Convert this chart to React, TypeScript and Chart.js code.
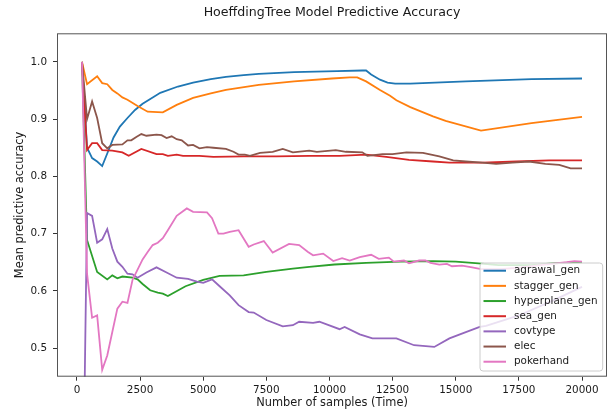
import { useEffect, useRef } from "react";
import { Chart, registerables } from "chart.js";

Chart.register(...registerables);

const TITLE = "HoeffdingTree Model Predictive Accuracy";
const X_LABEL = "Number of samples (Time)";
const Y_LABEL = "Mean predictive accuracy";

const X_TICKS = [0, 2500, 5000, 7500, 10000, 12500, 15000, 17500, 20000];
const Y_TICKS = [0.5, 0.6, 0.7, 0.8, 0.9, 1.0];

const SERIES_NAMES = [
  "agrawal_gen",
  "stagger_gen",
  "hyperplane_gen",
  "sea_gen",
  "covtype",
  "elec",
  "pokerhand",
];
const SERIES_COLORS = [
  "#1f77b4",
  "#ff7f0e",
  "#2ca02c",
  "#d62728",
  "#9467bd",
  "#8c564b",
  "#e377c2",
];

// [samples seen, mean accuracy]
const agrawalGen: [number, number][] = [
  [200, 1.0], [400, 0.85], [600, 0.832], [800, 0.826], [1000, 0.818], [1200, 0.84],
  [1450, 0.868], [1700, 0.887], [2000, 0.902], [2300, 0.916], [2600, 0.927], [3000, 0.938],
  [3300, 0.946], [4000, 0.957], [4600, 0.964], [5300, 0.97], [5900, 0.974], [6600, 0.977],
  [7200, 0.979], [8600, 0.982], [10300, 0.984], [11300, 0.985], [11450, 0.985], [11650, 0.978],
  [12000, 0.969], [12300, 0.964], [12600, 0.962], [13200, 0.962], [15400, 0.966], [18000, 0.97],
  [20000, 0.971],
];

const staggerGen: [number, number][] = [
  [200, 1.0], [400, 0.961], [800, 0.975], [1000, 0.963], [1200, 0.961], [1400, 0.951],
  [1600, 0.945], [1800, 0.938], [2000, 0.934], [2400, 0.923], [2800, 0.913], [3400, 0.912],
  [3950, 0.925], [4600, 0.937], [5300, 0.945], [5900, 0.951], [7200, 0.96], [8600, 0.966],
  [10100, 0.971], [10800, 0.973], [11100, 0.973], [11450, 0.966], [12000, 0.951], [12400, 0.941],
  [12650, 0.933], [13200, 0.921], [14100, 0.905], [14600, 0.897], [16000, 0.88], [18000, 0.893],
  [20000, 0.904],
];

const hyperplaneGen: [number, number][] = [
  [200, 1.0], [400, 0.689], [800, 0.633], [1200, 0.62], [1400, 0.627], [1600, 0.622],
  [1800, 0.625], [2200, 0.623], [2400, 0.62], [2600, 0.612], [2900, 0.601], [3200, 0.597],
  [3400, 0.595], [3600, 0.591], [4300, 0.608], [5000, 0.619], [5650, 0.626], [6600, 0.627],
  [7500, 0.633], [8550, 0.639], [9200, 0.642], [10200, 0.646], [11450, 0.649], [12800, 0.651],
  [14100, 0.652], [15000, 0.651], [15900, 0.648], [16700, 0.645], [18000, 0.645], [18800, 0.648],
  [20000, 0.65],
];

const seaGen: [number, number][] = [
  [200, 1.0], [400, 0.846], [600, 0.858], [800, 0.858], [1000, 0.846], [1400, 0.845],
  [1800, 0.842], [2050, 0.836], [2550, 0.848], [3150, 0.839], [3400, 0.839], [3600, 0.836],
  [3950, 0.838], [4200, 0.836], [4850, 0.836], [5400, 0.834], [6600, 0.835], [7900, 0.835],
  [9200, 0.836], [10400, 0.836], [11450, 0.838], [12250, 0.834], [13150, 0.829], [14100, 0.826],
  [14750, 0.824], [16050, 0.824], [17400, 0.826], [18700, 0.828], [20000, 0.828],
];

const covtype: [number, number][] = [
  [200, 0.1], [400, 0.736], [600, 0.731], [800, 0.684], [1000, 0.69], [1200, 0.708],
  [1400, 0.674], [1600, 0.651], [1800, 0.642], [2000, 0.63], [2200, 0.629], [2400, 0.623],
  [2750, 0.632], [3150, 0.641], [3550, 0.632], [3950, 0.623], [4400, 0.621], [4750, 0.616],
  [5000, 0.614], [5350, 0.62], [5650, 0.608], [6050, 0.592], [6400, 0.575], [6800, 0.563],
  [7000, 0.562], [7500, 0.549], [8150, 0.538], [8550, 0.54], [8800, 0.546], [9350, 0.544],
  [9600, 0.546], [10400, 0.533], [10600, 0.537], [11200, 0.524], [11700, 0.517], [12650, 0.517],
  [13350, 0.505], [14150, 0.502], [14750, 0.517], [15400, 0.528], [15950, 0.537], [16200, 0.539],
  [17500, 0.557], [18800, 0.582], [20000, 0.607],
];

const elec: [number, number][] = [
  [200, 1.0], [400, 0.9], [600, 0.931], [800, 0.902], [1000, 0.858], [1200, 0.849],
  [1400, 0.855], [1800, 0.856], [2000, 0.863], [2150, 0.863], [2350, 0.869], [2550, 0.874],
  [2750, 0.871], [3150, 0.873], [3350, 0.872], [3550, 0.867], [3750, 0.87], [3950, 0.865],
  [4150, 0.863], [4400, 0.854], [4600, 0.855], [4850, 0.849], [5150, 0.851], [5400, 0.85],
  [5900, 0.848], [6200, 0.843], [6400, 0.838], [6650, 0.838], [6850, 0.836], [7250, 0.841],
  [7750, 0.843], [8150, 0.848], [8550, 0.842], [9200, 0.845], [9500, 0.843], [10250, 0.846],
  [10650, 0.843], [11300, 0.842], [11500, 0.836], [12100, 0.839], [12500, 0.839], [13050, 0.842],
  [13700, 0.841], [14350, 0.835], [14900, 0.828], [15400, 0.826], [16050, 0.824], [16600, 0.822],
  [17250, 0.824], [17900, 0.826], [18550, 0.822], [19100, 0.82], [19550, 0.814], [20000, 0.814],
];

const pokerhand: [number, number][] = [
  [200, 1.0], [400, 0.63], [600, 0.553], [800, 0.557], [1000, 0.462], [1200, 0.487],
  [1400, 0.528], [1600, 0.569], [1800, 0.581], [2000, 0.579], [2200, 0.619], [2400, 0.637],
  [2600, 0.655], [2800, 0.668], [3000, 0.68], [3200, 0.684], [3400, 0.692], [3600, 0.706],
  [3950, 0.731], [4350, 0.744], [4600, 0.738], [5150, 0.737], [5350, 0.727], [5600, 0.7],
  [5800, 0.7], [6050, 0.703], [6400, 0.706], [6800, 0.677], [7000, 0.681], [7400, 0.687],
  [7750, 0.667], [8400, 0.682], [8800, 0.68], [9150, 0.668], [9350, 0.662], [9750, 0.665],
  [10150, 0.652], [10500, 0.657], [10800, 0.653], [11200, 0.659], [11650, 0.663], [11950, 0.656],
  [12350, 0.658], [12550, 0.651], [12950, 0.653], [13150, 0.648], [13550, 0.653], [13800, 0.653],
  [14000, 0.649], [14350, 0.646], [14650, 0.647], [14850, 0.643], [15250, 0.644], [15650, 0.641],
  [16000, 0.638], [16800, 0.638], [17600, 0.641], [18500, 0.646], [19400, 0.65], [19700, 0.652],
  [20000, 0.651],
];

const SERIES_DATA = [agrawalGen, staggerGen, hyperplaneGen, seaGen, covtype, elec, pokerhand];

const FONT = "'DejaVu Sans', sans-serif";
const TEXT_COLOR = "#1a1a1a";
const TICK_SIZE = 10.4;
const LABEL_SIZE = 11.4;
const TITLE_SIZE = 12.6;

// Axes box, title, axis labels and the in-plot legend.
const decorations = {
  id: "decorations",
  afterDraw(chart: Chart) {
    const { ctx, chartArea: a } = chart;
    const cx = (a.left + a.right) / 2;
    const cy = (a.top + a.bottom) / 2;
    ctx.save();

    ctx.strokeStyle = "#555555";
    ctx.lineWidth = 1;
    ctx.strokeRect(a.left + 0.5, a.top + 0.5, a.right - a.left - 1, a.bottom - a.top - 1);

    ctx.fillStyle = TEXT_COLOR;
    ctx.textAlign = "center";
    ctx.textBaseline = "middle";
    ctx.font = `${TITLE_SIZE}px ${FONT}`;
    ctx.fillText(TITLE, cx, 13);

    ctx.font = `${LABEL_SIZE}px ${FONT}`;
    ctx.fillText(X_LABEL, cx, 403.5);
    ctx.save();
    ctx.translate(20.5, cy);
    ctx.rotate(-Math.PI / 2);
    ctx.fillText(Y_LABEL, 0, 0);
    ctx.restore();

    // legend
    const boxW = 122.7;
    const boxH = 108;
    const bx = a.right - 4.3 - boxW;
    const by = a.bottom - 5.7 - boxH;
    ctx.beginPath();
    ctx.roundRect(bx, by, boxW, boxH, 3);
    ctx.fillStyle = "rgba(255,255,255,0.8)";
    ctx.fill();
    ctx.strokeStyle = "#cccccc";
    ctx.lineWidth = 1;
    ctx.stroke();

    ctx.textAlign = "left";
    ctx.font = `${TICK_SIZE}px ${FONT}`;
    SERIES_NAMES.forEach((name, i) => {
      const y = by + 7.7 + i * 15.17;
      ctx.beginPath();
      ctx.moveTo(bx + 3.5, y);
      ctx.lineTo(bx + 26, y);
      ctx.strokeStyle = SERIES_COLORS[i];
      ctx.lineWidth = 2;
      ctx.stroke();
      ctx.fillStyle = TEXT_COLOR;
      ctx.fillText(name, bx + 34, y);
    });

    ctx.restore();
  },
};

export default function App() {
  const canvasRef = useRef<HTMLCanvasElement | null>(null);

  useEffect(() => {
    if (!canvasRef.current) return;
    const chart = new Chart(canvasRef.current, {
      type: "line",
      data: {
        datasets: SERIES_NAMES.map((name, i) => ({
          label: name,
          data: SERIES_DATA[i].map(([x, y]) => ({ x, y })),
          borderColor: SERIES_COLORS[i],
          backgroundColor: SERIES_COLORS[i],
          borderWidth: 1.8,
          pointRadius: 0,
          tension: 0,
          fill: false,
          order: SERIES_NAMES.length - 1 - i,
        })),
      },
      options: {
        animation: false,
        responsive: true,
        maintainAspectRatio: false,
        layout: { padding: { top: 33.3, left: 0, right: 4, bottom: 0 } },
        plugins: {
          legend: { display: false },
          title: { display: false },
          tooltip: { enabled: false },
        },
        scales: {
          x: {
            type: "linear",
            min: -790,
            max: 20990,
            afterBuildTicks: (scale: any) => {
              scale.ticks = X_TICKS.map((value) => ({ value }));
            },
            afterFit: (scale: any) => {
              scale.height = 35.3;
            },
            grid: {
              display: true,
              drawOnChartArea: false,
              drawTicks: true,
              tickLength: 4,
              color: "#333333",
            },
            border: { display: false },
            ticks: {
              padding: 3,
              color: TEXT_COLOR,
              font: { family: FONT, size: TICK_SIZE },
              maxRotation: 0,
              autoSkip: false,
              callback: (v: any) => String(v),
            },
          },
          y: {
            type: "linear",
            min: 0.45,
            max: 1.05,
            afterBuildTicks: (scale: any) => {
              scale.ticks = Y_TICKS.map((value) => ({ value }));
            },
            afterFit: (scale: any) => {
              scale.width = 57;
            },
            grid: {
              display: true,
              drawOnChartArea: false,
              drawTicks: true,
              tickLength: 4,
              color: "#333333",
            },
            border: { display: false },
            ticks: {
              padding: 6,
              color: TEXT_COLOR,
              font: { family: FONT, size: TICK_SIZE },
              autoSkip: false,
              callback: (v: any) => Number(v).toFixed(1),
            },
          },
        },
      },
      plugins: [decorations],
    });
    return () => chart.destroy();
  }, []);

  return (
    <div
      style={{
        position: "absolute",
        left: 0,
        top: 0,
        width: 611,
        height: 412,
        background: "#ffffff",
      }}
    >
      <canvas ref={canvasRef} />
    </div>
  );
}
